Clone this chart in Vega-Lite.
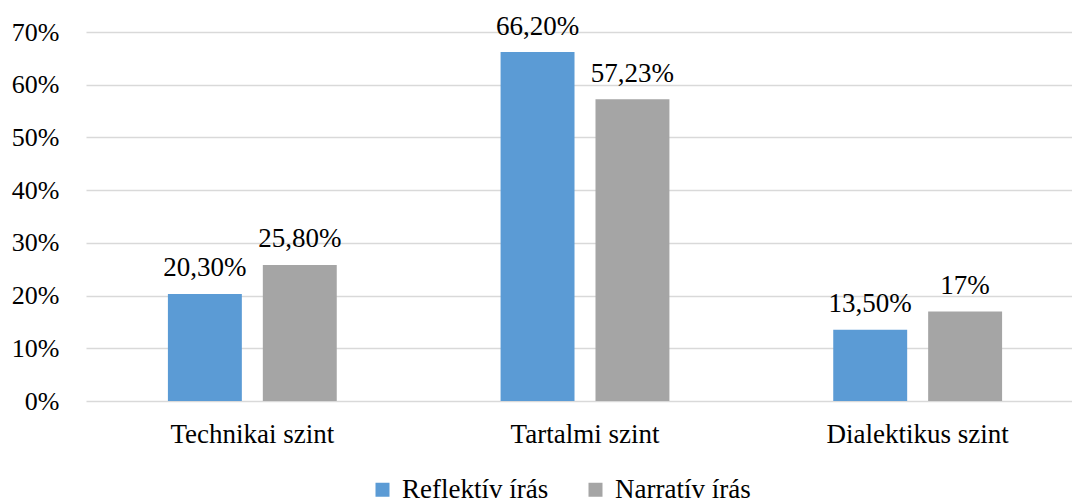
{
  "$schema": "https://vega.github.io/schema/vega-lite/v6.json",
  "width": 986,
  "height": 369,
  "autosize": {"type": "none"},
  "padding": {"left": 86, "top": 32, "right": 0, "bottom": 99},
  "config": {
    "font": "DejaVu Serif",
    "view": {"stroke": null}
  },
  "data": {
    "values": [
      {"level": "Technikai szint", "type": "Reflektív írás", "value": 0.203, "label": "20,30%"},
      {"level": "Technikai szint", "type": "Narratív írás", "value": 0.258, "label": "25,80%"},
      {"level": "Tartalmi szint", "type": "Reflektív írás", "value": 0.662, "label": "66,20%"},
      {"level": "Tartalmi szint", "type": "Narratív írás", "value": 0.5723, "label": "57,23%"},
      {"level": "Dialektikus szint", "type": "Reflektív írás", "value": 0.135, "label": "13,50%"},
      {"level": "Dialektikus szint", "type": "Narratív írás", "value": 0.17, "label": "17%"}
    ]
  },
  "encoding": {
    "x": {
      "field": "level",
      "type": "nominal",
      "sort": ["Technikai szint", "Tartalmi szint", "Dialektikus szint"],
      "scale": {"range": [0, 998], "paddingInner": 0, "paddingOuter": 0},
      "axis": {"title": null, "labelAngle": 0, "labelFont": "Liberation Serif", "labelFontSize": 27, "labelPadding": 20, "labelLimit": 0, "ticks": false, "domain": false, "grid": false}
    },
    "xOffset": {
      "field": "type",
      "type": "nominal",
      "sort": ["Reflektív írás", "Narratív írás"],
      "scale": {"paddingInner": 0.221, "paddingOuter": 0.863}
    },
    "y": {
      "field": "value",
      "type": "quantitative",
      "scale": {"domain": [0, 0.7], "nice": false},
      "axis": {
        "title": null,
        "values": [0, 0.1, 0.2, 0.3, 0.4, 0.5, 0.6, 0.7],
        "format": ".0%",
        "labelFont": "serif",
        "labelFontSize": 26,
        "labelPadding": 27,
        "ticks": false,
        "domain": false,
        "grid": true,
        "gridColor": "#D9D9D9",
        "gridWidth": 1.3
      }
    }
  },
  "layer": [
    {
      "mark": {"type": "bar"},
      "encoding": {
        "color": {
          "field": "type",
          "type": "nominal",
          "sort": ["Reflektív írás", "Narratív írás"],
          "scale": {"domain": ["Reflektív írás", "Narratív írás"], "range": ["#5B9BD5", "#A5A5A5"]},
          "legend": {
            "title": null,
            "orient": "none",
            "direction": "horizontal",
            "legendX": 283,
            "legendY": 444,
            "symbolType": "square",
            "symbolSize": 196,
            "symbolStrokeWidth": 0,
            "labelFont": "Liberation Serif",
            "labelFontSize": 27,
            "labelOffset": 6,
            "labelLimit": 0,
            "columnPadding": 33
          }
        }
      }
    },
    {
      "mark": {"type": "text", "font": "Liberation Serif", "fontSize": 27, "baseline": "alphabetic", "dy": -17.5, "color": "#000000"},
      "encoding": {"text": {"field": "label"}}
    }
  ]
}
